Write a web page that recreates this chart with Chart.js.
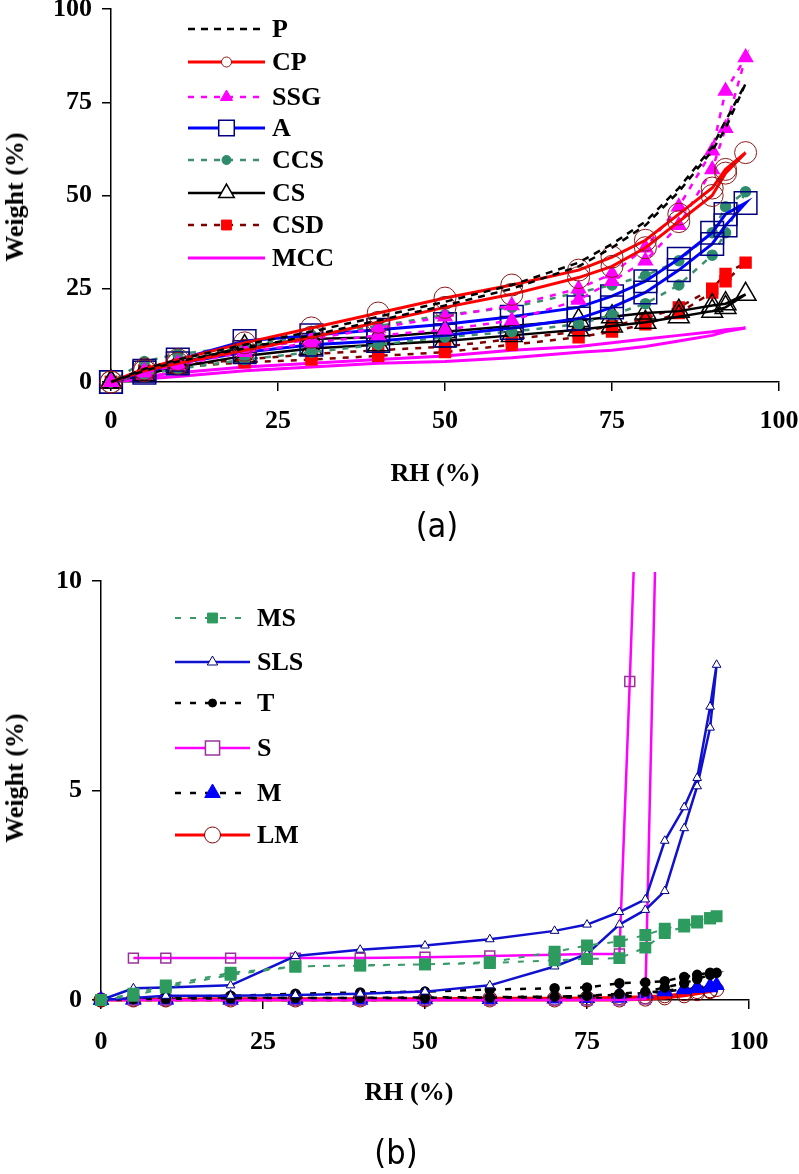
<!DOCTYPE html>
<html>
<head>
<meta charset="utf-8">
<script src="https://cdn.jsdelivr.net/npm/chart.js@4"></script>
<style>
  body { margin: 0; background: #fff; width: 799px; height: 1174px; position: relative; overflow: hidden; font-family: "Liberation Serif", serif; }
  .box { position: absolute; left: 0; width: 799px; }
  .t { position: absolute; font-weight: bold; font-size: 26px; white-space: nowrap; transform: translate(-50%, -50%); }
  .yt { transform: translate(-50%, -50%) rotate(-90deg); }
  .tag { position: absolute; font-family: "DejaVu Sans Condensed", sans-serif; font-size: 34px; transform: translate(-50%, -50%); }
</style>
</head>
<body>
<div class="box" style="top:0;height:500px"><canvas id="chartA"></canvas></div>
<div class="box" style="top:540px;height:634px"><canvas id="chartB"></canvas></div>

<div class="t yt" style="left:15px;top:197px">Weight (%)</div>
<div class="t" style="left:435px;top:473px">RH (%)</div>
<div class="tag" style="left:437px;top:525px">(a)</div>
<div class="t yt" style="left:15px;top:778px">Weight (%)</div>
<div class="t" style="left:409px;top:1092px">RH (%)</div>
<div class="tag" style="left:396px;top:1152px">(b)</div>

<script>
// ---- chart (a): sorption / desorption, RH steps
const rhA = [0, 5, 10, 20, 30, 40, 50, 60, 70, 75, 80, 85, 90, 92, 95];
const P_sorp    = [0, 3, 5.5, 9, 12.5, 16.5, 20.5, 25, 31, 36, 42, 51, 62, 68, 80];
const P_desorp  = [0, 3.5, 6, 10, 13.5, 17.5, 21.5, 26, 32, 37, 43, 52, 63, 70, 80];
const CP_sorp   = [0, 3, 5, 8.5, 12, 16, 20, 23.5, 28, 31, 36, 43, 50, 56, 61.5];
const CP_desorp = [0, 3.5, 6, 10.5, 14.5, 18.5, 22.5, 26, 30, 33.5, 38, 45, 52, 57, 61.5];
const SSG_sorp  = [0, 2.5, 4.5, 8, 10.5, 12.5, 14, 16.5, 22, 27, 32.5, 42, 57, 68, 87];
const SSG_desorp= [0, 3, 5, 8.5, 11.5, 14.5, 17.5, 20.5, 25, 29, 36, 47, 62, 78, 87];
const A_sorp    = [0, 2.5, 5, 8, 10, 11, 12.5, 14.5, 17, 20, 24, 30, 37, 42, 48];
const A_desorp  = [0, 3, 6, 11, 12.5, 14, 15.5, 17.5, 20, 23, 27, 33, 40, 45, 48];
const CCS_sorp  = [0, 2, 3.5, 6, 8, 10, 12, 13.5, 15.5, 18, 21, 26, 34, 40, 51];
const CCS_desorp= [0, 5.5, 7.5, 9.5, 12.5, 15, 18, 20, 24, 26, 28.5, 32.5, 40, 47, 51];
const CS_sorp   = [0, 2, 4, 7, 9, 10, 11, 12.5, 14, 15, 16, 17.5, 19, 20, 23.5];
const CS_desorp = [0, 3, 5, 9.5, 11.5, 12, 13.5, 15, 16.5, 17.5, 18.5, 19, 20.5, 21, 23.5];
const CSD_sorp  = [0, 3, 4, 5.3, 6, 7, 8, 10, 12, 13.5, 15.5, 18.5, 24, 27, 32];
const CSD_desorp= [0, 3, 4.5, 6, 7.5, 8.5, 9.5, 11.5, 13.5, 15, 17, 20, 25, 29, 32];
const MCC_sorp  = [0, 0.8, 1.5, 3, 4, 5, 5.5, 6.5, 8, 8.5, 9.5, 11, 12.5, 13.5, 14.5];
const MCC_desorp= [0, 1.5, 2.5, 4, 5, 6, 7, 8.5, 9.5, 10.5, 11.5, 12.5, 13.5, 14, 14.5];

// ---- chart (b)
const rhB = [0, 5, 10, 20, 30, 40, 50, 60, 70, 75, 80, 84, 87, 90, 92, 94, 95];
const MS_sorp    = [0, 0.1, 0.3, 0.6, 0.8, 0.82, 0.85, 0.88, 0.95, 0.98, 1.0, 1.25, 1.6, 1.75, 1.85, 1.95, 2.0];
const MS_desorp  = [0, 0.15, 0.35, 0.65, 0.8, 0.83, 0.85, 0.9, 1.15, 1.3, 1.4, 1.55, 1.7, 1.8, 1.88, 1.95, 2.0];
const SLS_sorp   = [0, 0.05, 0.1, 0.1, 0.12, 0.15, 0.2, 0.35, 0.8, 1.1, 1.8, 2.15, 2.6, 4.1, 5.1, 6.5, 8.0];
const SLS_desorp = [0, 0.28, 0.3, 0.35, 1.05, 1.2, 1.3, 1.45, 1.65, 1.8, 2.1, 2.4, 3.8, 4.6, 5.3, 7.0, 8.0];
const T_sorp     = [0, 0.02, 0.03, 0.04, 0.05, 0.05, 0.05, 0.06, 0.08, 0.1, 0.15, 0.2, 0.3, 0.4, 0.5, 0.6, 0.65];
const T_desorp   = [0, 0.05, 0.08, 0.1, 0.15, 0.18, 0.2, 0.25, 0.28, 0.3, 0.4, 0.42, 0.45, 0.55, 0.6, 0.65, 0.65];
const M_sorp     = [0, 0, 0, 0, 0, 0, 0.01, 0.02, 0.03, 0.04, 0.05, 0.15, 0.2, 0.25, 0.28, 0.3, 0.35];
const M_desorp   = [0, 0.02, 0.03, 0.04, 0.05, 0.05, 0.06, 0.07, 0.08, 0.1, 0.12, 0.17, 0.22, 0.27, 0.3, 0.33, 0.35];
const LM_sorp    = [0, 0, 0, 0, 0, 0, 0, 0, 0, 0, 0, 0.02, 0.05, 0.1, 0.15, 0.2, 0.25];
const LM_desorp  = [0, 0.02, 0.02, 0.03, 0.03, 0.03, 0.03, 0.04, 0.04, 0.05, 0.06, 0.08, 0.1, 0.15, 0.2, 0.22, 0.25];
// S jumps off the scale above ~84 %RH
const rhS_up   = [0, 5, 10, 20, 30, 40, 50, 60, 70, 75, 80, 84, 90];
const S_up     = [0, 0, 0, 0, 0, 0, 0, 0, 0, 0, 0, 0.02, 41];
const rhS_down = [85, 81.6, 80, 75, 70, 60, 50, 40, 30, 20, 10, 5];
const S_down   = [22.5, 7.6, 1.1, 1.1, 1.08, 1.05, 1.02, 1.0, 1.0, 1.0, 1.0, 1.0];

function loop(rh, sorp, desorp) {
  const up = rh.map((x, i) => ({ x: x, y: sorp[i] }));
  const down = rh.map((x, i) => ({ x: x, y: desorp[i] })).reverse().slice(1);
  return up.concat(down);
}
function path(rh1, v1, rh2, v2) {
  return rh1.map((x, i) => ({ x: x, y: v1[i] })).concat(rh2.map((x, i) => ({ x: x, y: v2[i] })));
}

const serif = 'Liberation Serif';
const none = 'rgba(0,0,0,0)';

// legend drawn inside the plot: line sample + marker + label
const insideLegend = {
  id: 'insideLegend',
  afterDatasetsDraw(chart, args, opts) {
    const ctx = chart.ctx;
    const xm = (opts.x0 + opts.x1) / 2;
    chart.data.datasets.forEach((ds, i) => {
      const y = opts.ys[i];
      ctx.save();
      ctx.strokeStyle = ds.borderColor;
      ctx.lineWidth = ds.borderWidth;
      ctx.setLineDash(ds.borderDash || []);
      ctx.beginPath();
      ctx.moveTo(opts.x0, y);
      ctx.lineTo(opts.x1, y);
      ctx.stroke();
      ctx.setLineDash([]);
      if (opts.radii[i] > 0) {
        ctx.fillStyle = ds.pointBackgroundColor === none ? '#fff' : ds.pointBackgroundColor;
        ctx.strokeStyle = ds.pointBorderColor;
        ctx.lineWidth = ds.pointBorderWidth || 1;
        Chart.helpers.drawPoint(ctx, { pointStyle: ds.pointStyle, radius: opts.radii[i], rotation: 0, borderWidth: ctx.lineWidth }, xm, y);
      }
      ctx.fillStyle = '#000';
      ctx.font = 'bold 26px "' + serif + '"';
      ctx.textBaseline = 'middle';
      ctx.textAlign = 'left';
      ctx.fillText(ds.label, opts.xt, y + 1);
      ctx.restore();
    });
  }
};

function axes(step, max, yWidth, xHeight, xPad) {
  const tickFont = { family: serif, size: 26, weight: 'bold' };
  return {
    x: {
      type: 'linear', min: 0, max: 100,
      ticks: { stepSize: 25, color: '#000', font: tickFont, padding: xPad, maxRotation: 0 },
      grid: { drawOnChartArea: false, tickLength: 9, color: '#000', lineWidth: 1.5 },
      border: { color: '#000', width: 1.5 },
      afterFit(s) { s.height = xHeight; s.paddingLeft = 0; s.paddingRight = 0; }
    },
    y: {
      min: 0, max: max,
      ticks: { stepSize: step, color: '#000', font: tickFont, padding: 10 },
      grid: { drawOnChartArea: false, tickLength: 9, color: '#000', lineWidth: 1.5 },
      border: { color: '#000', width: 1.5 },
      afterFit(s) { s.width = yWidth; s.paddingTop = 0; s.paddingBottom = 0; }
    }
  };
}

new Chart(document.getElementById('chartA'), {
  type: 'scatter',
  data: {
    datasets: [
      { label: 'P', data: loop(rhA, P_sorp, P_desorp), showLine: true, borderColor: '#000', borderWidth: 2.5, borderDash: [7, 6], pointRadius: 0, clip: false },
      { label: 'CP', data: loop(rhA, CP_sorp, CP_desorp), showLine: true, borderColor: '#FF0000', borderWidth: 3, pointStyle: 'circle', pointRadius: 11, pointBackgroundColor: none, pointBorderColor: '#8B1A1A', pointBorderWidth: 1, clip: false },
      { label: 'SSG', data: loop(rhA, SSG_sorp, SSG_desorp), showLine: true, borderColor: '#FF00FF', borderWidth: 2.5, borderDash: [6, 7], pointStyle: 'triangle', pointRadius: 7, pointBackgroundColor: '#FF00FF', pointBorderColor: '#FF00FF', clip: false },
      { label: 'A', data: loop(rhA, A_sorp, A_desorp), showLine: true, borderColor: '#0000FF', borderWidth: 3, pointStyle: 'rect', pointRadius: 16, pointBackgroundColor: none, pointBorderColor: '#000080', pointBorderWidth: 1.5, clip: false },
      { label: 'CCS', data: loop(rhA, CCS_sorp, CCS_desorp), showLine: true, borderColor: '#3F8F6F', borderWidth: 2.5, borderDash: [6, 7], pointStyle: 'circle', pointRadius: 4.5, pointBackgroundColor: '#2E8B6E', pointBorderColor: '#2E8B6E', clip: false },
      { label: 'CS', data: loop(rhA, CS_sorp, CS_desorp), showLine: true, borderColor: '#000', borderWidth: 2.5, pointStyle: 'triangle', pointRadius: 12, pointBackgroundColor: none, pointBorderColor: '#000', pointBorderWidth: 1.5, clip: false },
      { label: 'CSD', data: loop(rhA, CSD_sorp, CSD_desorp), showLine: true, borderColor: '#800000', borderWidth: 2.5, borderDash: [6, 7], pointStyle: 'rect', pointRadius: 7, pointBackgroundColor: '#FF0000', pointBorderColor: '#FF0000', clip: false },
      { label: 'MCC', data: loop(rhA, MCC_sorp, MCC_desorp), showLine: true, borderColor: '#FF00FF', borderWidth: 3, pointRadius: 0, clip: false }
    ]
  },
  options: {
    responsive: true, maintainAspectRatio: false, animation: false,
    layout: { autoPadding: false, padding: { left: 0, top: 9, right: 20, bottom: 0 } },
    scales: axes(25, 100, 111, 118, 15),
    plugins: {
      legend: { display: false }, tooltip: { enabled: false },
      insideLegend: { x0: 188, x1: 265, xt: 272, ys: [29, 62, 97, 128, 160, 193, 225, 258], radii: [0, 5, 7, 11, 4.5, 9, 7, 0] }
    }
  },
  plugins: [insideLegend]
});

const clipB = { left: 30, top: 9, right: 30, bottom: 30 };
new Chart(document.getElementById('chartB'), {
  type: 'scatter',
  data: {
    datasets: [
      { label: 'MS', data: loop(rhB, MS_sorp, MS_desorp), showLine: true, borderColor: '#3C9A6A', borderWidth: 2, borderDash: [6, 9], pointStyle: 'rect', pointRadius: 7, pointBackgroundColor: '#2E9B5E', pointBorderColor: '#2E9B5E', clip: clipB },
      { label: 'SLS', data: loop(rhB, SLS_sorp, SLS_desorp), showLine: true, borderColor: '#1010D0', borderWidth: 2.5, pointStyle: 'triangle', pointRadius: 5, pointBackgroundColor: '#fff', pointBorderColor: '#000080', pointBorderWidth: 1, clip: clipB },
      { label: 'T', data: loop(rhB, T_sorp, T_desorp), showLine: true, borderColor: '#000', borderWidth: 2.5, borderDash: [6, 9], pointStyle: 'circle', pointRadius: 4, pointBackgroundColor: '#000', pointBorderColor: '#000', clip: clipB },
      { label: 'S', data: path(rhS_up, S_up, rhS_down, S_down), showLine: true, borderColor: '#FF00FF', borderWidth: 2.5, pointStyle: 'rect', pointRadius: 7, pointBackgroundColor: none, pointBorderColor: '#993399', pointBorderWidth: 1.5, clip: clipB },
      { label: 'M', data: loop(rhB, M_sorp, M_desorp), showLine: true, borderColor: '#000', borderWidth: 2.5, borderDash: [6, 9], pointStyle: 'triangle', pointRadius: 7, pointBackgroundColor: '#0000FF', pointBorderColor: '#0000FF', clip: clipB },
      { label: 'LM', data: loop(rhB, LM_sorp, LM_desorp), showLine: true, borderColor: '#FF0000', borderWidth: 3, pointStyle: 'circle', pointRadius: 7, pointBackgroundColor: none, pointBorderColor: '#800000', pointBorderWidth: 1, clip: clipB }
    ]
  },
  options: {
    responsive: true, maintainAspectRatio: false, animation: false,
    layout: { autoPadding: false, padding: { left: 0, top: 41, right: 50, bottom: 0 } },
    scales: axes(5, 10, 101, 174, 18),
    plugins: {
      legend: { display: false }, tooltip: { enabled: false },
      insideLegend: { x0: 175, x1: 250, xt: 257, ys: [78, 122, 163, 208, 253, 295], radii: [7, 6, 4, 10, 9, 8] }
    }
  },
  plugins: [insideLegend]
});
</script>
</body>
</html>
